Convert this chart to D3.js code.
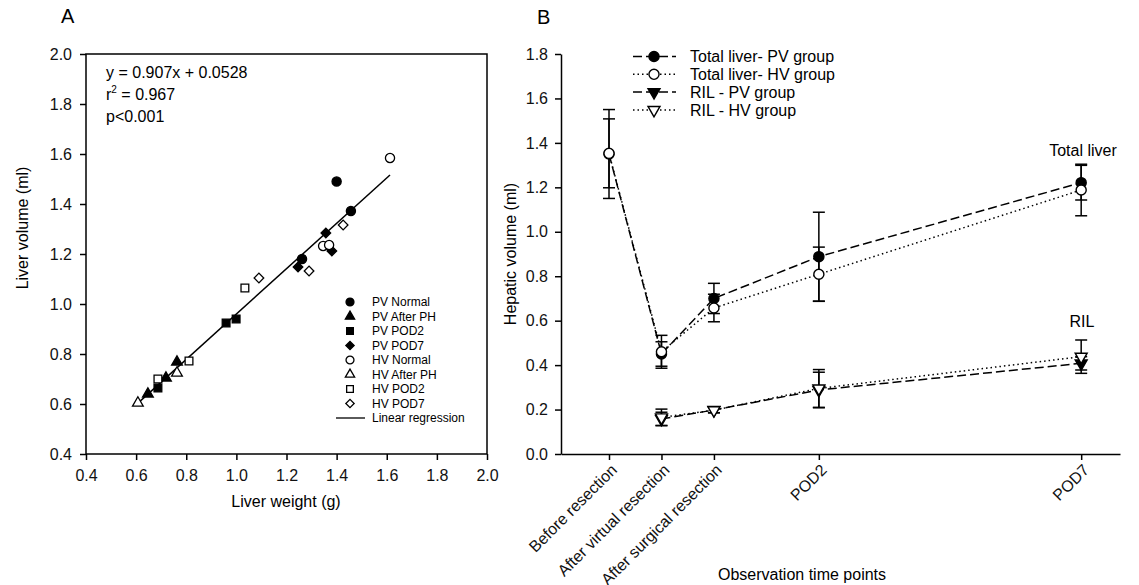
<!DOCTYPE html>
<html>
<head>
<meta charset="utf-8">
<script src="https://cdn.jsdelivr.net/npm/d3@7"></script>
<style>
  body { margin: 0; background: #fff; }
  svg { font-family: "Liberation Sans", Arial, sans-serif; }
</style>
</head>
<body>
<svg id="chart" width="1139" height="585"></svg>
<script>
// Panel A - liver weight vs volume
const scatterGroups = ["PV Normal", "PV After PH", "PV POD2", "PV POD7", "HV Normal", "HV After PH", "HV POD2", "HV POD7"];
const liverWeight = [
  [1.40, 1.457, 1.262],
  [0.763, 0.719, 0.647],
  [0.959, 0.999, 0.687],
  [1.357, 1.381, 1.246],
  [1.613, 1.346, 1.37],
  [0.763, 0.607],
  [1.034, 0.811, 0.687],
  [1.426, 1.29, 1.09]
];
const liverVolume = [
  [1.49, 1.372, 1.18],
  [0.768, 0.704, 0.64],
  [0.924, 0.94, 0.664],
  [1.284, 1.212, 1.148],
  [1.584, 1.232, 1.236],
  [0.724, 0.604],
  [1.064, 0.772, 0.70],
  [1.316, 1.132, 1.104]
];
const regSlope = 0.907, regIntercept = 0.0528;
const regRange = [0.615, 1.613];
const ticksA = [0.4, 0.6, 0.8, 1.0, 1.2, 1.4, 1.6, 1.8, 2.0];

// Panel B - hepatic volume over time
const timePoints = ["Before resection", "After virtual resection", "After surgical resection", "POD2", "POD7"];
const timePos = [0, 1, 2, 4, 9];
const totalPV = [1.35, 0.45, 0.70, 0.888, 1.221];
const totalPVsd = [0.2, 0.055, 0.068, 0.2, 0.078];
const totalHV = [1.353, 0.46, 0.657, 0.809, 1.188];
const totalHVsd = [0.155, 0.074, 0.062, 0.122, 0.116];
const rilPV = [null, 0.158, 0.198, 0.288, 0.408];
const rilPVsd = [null, 0.03, 0.012, 0.08, 0.03];
const rilHV = [null, 0.165, 0.197, 0.295, 0.438];
const rilHVsd = [null, 0.037, 0.012, 0.085, 0.075];
const ticksB = [0, 0.2, 0.4, 0.6, 0.8, 1.0, 1.2, 1.4, 1.6, 1.8];

const svg = d3.select('#chart');
const fmt = d3.format('.1f');

// marker helper: type = circle/triangle/square/diamond/tridown
function marker(type, size) {
  if (type === 'circle') return d3.symbol(d3.symbolCircle, size)();
  if (type === 'square') return d3.symbol(d3.symbolSquare, size)();
  if (type === 'triangle' || type === 'tridown') return d3.symbol(d3.symbolTriangle, size)();
  if (type === 'diamond') return d3.symbol(d3.symbolSquare, size)();
}
function markerRot(type) {
  if (type === 'diamond') return ' rotate(45)';
  if (type === 'tridown') return ' rotate(180)';
  return '';
}
function sizeOf(type) {
  if (type === 'circle') return 66;
  if (type === 'square') return 60;
  if (type === 'diamond') return 46;
  return 50;
}

// ---------- Panel A ----------
const xA = d3.scaleLinear().domain([0.4, 2.0]).range([86, 487]);
const yA = d3.scaleLinear().domain([0.4, 2.0]).range([454, 54]);
const gA = svg.append('g');

gA.append('rect')
  .attr('x', xA(0.4)).attr('y', yA(2.0))
  .attr('width', xA(2.0) - xA(0.4)).attr('height', yA(0.4) - yA(2.0))
  .attr('fill', 'none').attr('stroke', '#000').attr('stroke-width', 1.5);

const axA_x = gA.append('g')
  .attr('transform', `translate(0,${yA(0.4)})`)
  .call(d3.axisBottom(xA).tickValues(ticksA).tickFormat(fmt).tickSize(6).tickPadding(10));
const axA_y = gA.append('g')
  .attr('transform', `translate(${xA(0.4)},0)`)
  .call(d3.axisLeft(yA).tickValues(ticksA).tickFormat(fmt).tickSize(6).tickPadding(8));
[axA_x, axA_y].forEach(a => {
  a.select('.domain').remove();
  a.selectAll('line').attr('stroke-width', 1.5);
  a.selectAll('text').attr('font-size', 16).attr('font-family', 'Liberation Sans, Arial').attr('fill', '#111');
});

gA.append('text').attr('x', 61).attr('y', 23).attr('font-size', 20).text('A');
gA.append('text').attr('x', 286).attr('y', 507).attr('text-anchor', 'middle').attr('font-size', 16).text('Liver weight (g)');
gA.append('text').attr('transform', 'translate(28,228) rotate(-90)').attr('text-anchor', 'middle').attr('font-size', 16).text('Liver volume (ml)');

// regression line
gA.append('line')
  .attr('x1', xA(regRange[0])).attr('y1', yA(regSlope * regRange[0] + regIntercept))
  .attr('x2', xA(regRange[1])).attr('y2', yA(regSlope * regRange[1] + regIntercept))
  .attr('stroke', '#000').attr('stroke-width', 1.5);

const typesA = ['circle', 'triangle', 'square', 'diamond', 'circle', 'triangle', 'square', 'diamond'];
scatterGroups.forEach((name, i) => {
  const pts = liverWeight[i].map((w, j) => ({ w, v: liverVolume[i][j] }));
  const filled = i < 4;
  gA.selectAll(null)
    .data(pts)
    .join('path')
    .attr('d', marker(typesA[i], sizeOf(typesA[i])))
    .attr('transform', d => `translate(${xA(d.w)},${yA(d.v)})` + markerRot(typesA[i]))
    .attr('fill', filled ? '#000' : '#fff')
    .attr('stroke', '#000')
    .attr('stroke-width', 1.3);
});

// equation text
const eq = gA.append('text').attr('x', 106).attr('font-size', 16);
eq.append('tspan').attr('x', 106).attr('y', 78).text('y = 0.907x + 0.0528');
const r2 = gA.append('text').attr('x', 106).attr('y', 100).attr('font-size', 16);
r2.append('tspan').text('r');
r2.append('tspan').attr('font-size', 10).attr('dy', -7).text('2');
r2.append('tspan').attr('dy', 7).text(' = 0.967');
gA.append('text').attr('x', 106).attr('y', 122).attr('font-size', 16).text('p<0.001');

// legend A
const legA = gA.append('g');
scatterGroups.forEach((name, i) => {
  const y = 302 + i * 14.5;
  legA.append('path')
    .attr('d', marker(typesA[i], sizeOf(typesA[i]) * 0.75))
    .attr('transform', `translate(350,${y})` + markerRot(typesA[i]))
    .attr('fill', i < 4 ? '#000' : '#fff')
    .attr('stroke', '#000').attr('stroke-width', 1.3);
  legA.append('text').attr('x', 372).attr('y', y).attr('dy', '0.35em').attr('font-size', 12).text(name);
});
legA.append('line').attr('x1', 336).attr('x2', 365).attr('y1', 302 + 8 * 14.5).attr('y2', 302 + 8 * 14.5)
  .attr('stroke', '#000').attr('stroke-width', 1.3);
legA.append('text').attr('x', 372).attr('y', 302 + 8 * 14.5).attr('dy', '0.35em').attr('font-size', 12).text('Linear regression');

// ---------- Panel B ----------
const xB = d3.scaleLinear().domain([-0.915, 9.74]).range([561, 1120]);
const yB = d3.scaleLinear().domain([0, 1.8]).range([454, 54]);
const gB = svg.append('g');

const axB_x = gB.append('g')
  .attr('transform', `translate(0,${yB(0)})`)
  .call(d3.axisBottom(xB).tickValues(timePos).tickFormat('').tickSizeOuter(0).tickSizeInner(6));
const axB_y = gB.append('g')
  .attr('transform', `translate(${xB.range()[0]},0)`)
  .call(d3.axisLeft(yB).tickValues(ticksB).tickFormat(fmt).tickSizeOuter(0).tickSizeInner(6).tickPadding(7));
[axB_x, axB_y].forEach(a => {
  a.select('.domain').attr('stroke-width', 1.5);
  a.selectAll('line').attr('stroke-width', 1.5);
  a.selectAll('text').attr('font-size', 16).attr('font-family', 'Liberation Sans, Arial').attr('fill', '#111');
});

// rotated category labels
gB.selectAll('text.cat')
  .data(timePoints)
  .join('text')
  .attr('class', 'cat')
  .attr('transform', (d, i) => `translate(${xB(timePos[i]) + 5},${yB(0) + 13}) rotate(-45)`)
  .attr('text-anchor', 'end')
  .attr('dy', '0.35em')
  .attr('font-size', 16)
  .attr('fill', '#111')
  .text(d => d);

gB.append('text').attr('x', 537).attr('y', 24).attr('font-size', 20).text('B');
gB.append('text').attr('x', 802).attr('y', 580).attr('text-anchor', 'middle').attr('font-size', 16).text('Observation time points');
gB.append('text').attr('transform', 'translate(516,254) rotate(-90)').attr('text-anchor', 'middle').attr('font-size', 16).text('Hepatic volume (ml)');

const seriesB = [
  { name: 'Total liver- PV group', vals: totalPV, sd: totalPVsd, type: 'circle', filled: true, dash: '9,4' },
  { name: 'Total liver- HV group', vals: totalHV, sd: totalHVsd, type: 'circle', filled: false, dash: '1.5,3' },
  { name: 'RIL - PV group', vals: rilPV, sd: rilPVsd, type: 'tridown', filled: true, dash: '9,4' },
  { name: 'RIL - HV group', vals: rilHV, sd: rilHVsd, type: 'tridown', filled: false, dash: '1.5,3' }
];

const lineB = d3.line()
  .defined(d => d.v != null)
  .x(d => xB(d.t))
  .y(d => yB(d.v));

seriesB.forEach(s => {
  const pts = s.vals.map((v, i) => ({ t: timePos[i], v, sd: s.sd[i] }));
  gB.append('path')
    .datum(pts)
    .attr('d', lineB)
    .attr('fill', 'none')
    .attr('stroke', '#000')
    .attr('stroke-width', 1.5)
    .attr('stroke-dasharray', s.dash);
  s.pts = pts.filter(d => d.v != null);
});

// error bars
seriesB.forEach(s => {
  const eb = gB.append('g').attr('stroke', '#000').attr('stroke-width', 1.5);
  s.pts.forEach(d => {
    const x = xB(d.t);
    eb.append('line').attr('x1', x).attr('x2', x).attr('y1', yB(d.v + d.sd)).attr('y2', yB(d.v - d.sd));
    [d.v + d.sd, d.v - d.sd].forEach(c => {
      eb.append('line').attr('x1', x - 6).attr('x2', x + 6).attr('y1', yB(c)).attr('y2', yB(c));
    });
  });
});

// markers
seriesB.forEach(s => {
  gB.selectAll(null)
    .data(s.pts)
    .join('path')
    .attr('d', marker(s.type, s.type === 'circle' ? 80 : 62))
    .attr('transform', d => `translate(${xB(d.t)},${yB(d.v)})` + markerRot(s.type))
    .attr('fill', s.filled ? '#000' : '#fff')
    .attr('stroke', '#000')
    .attr('stroke-width', 1.4);
});

// series labels
gB.append('text').attr('x', 1083).attr('y', 150).attr('dy', '0.35em').attr('text-anchor', 'middle').attr('font-size', 16).text('Total liver');
gB.append('text').attr('x', 1082).attr('y', 321).attr('dy', '0.35em').attr('text-anchor', 'middle').attr('font-size', 16).text('RIL');

// legend B
const legB = gB.append('g');
seriesB.forEach((s, i) => {
  const y = 56.5 + i * 17.8;
  legB.append('line').attr('x1', 633).attr('x2', 676).attr('y1', y).attr('y2', y)
    .attr('stroke', '#000').attr('stroke-width', 1.5).attr('stroke-dasharray', s.filled ? '9,4' : '1.5,3');
  legB.append('path')
    .attr('d', marker(s.type, s.type === 'circle' ? 80 : 62))
    .attr('transform', `translate(654,${y})` + markerRot(s.type))
    .attr('fill', s.filled ? '#000' : '#fff')
    .attr('stroke', '#000').attr('stroke-width', 1.4);
  legB.append('text').attr('x', 690).attr('y', y).attr('dy', '0.35em').attr('font-size', 16).text(s.name);
});
</script>
</body>
</html>
